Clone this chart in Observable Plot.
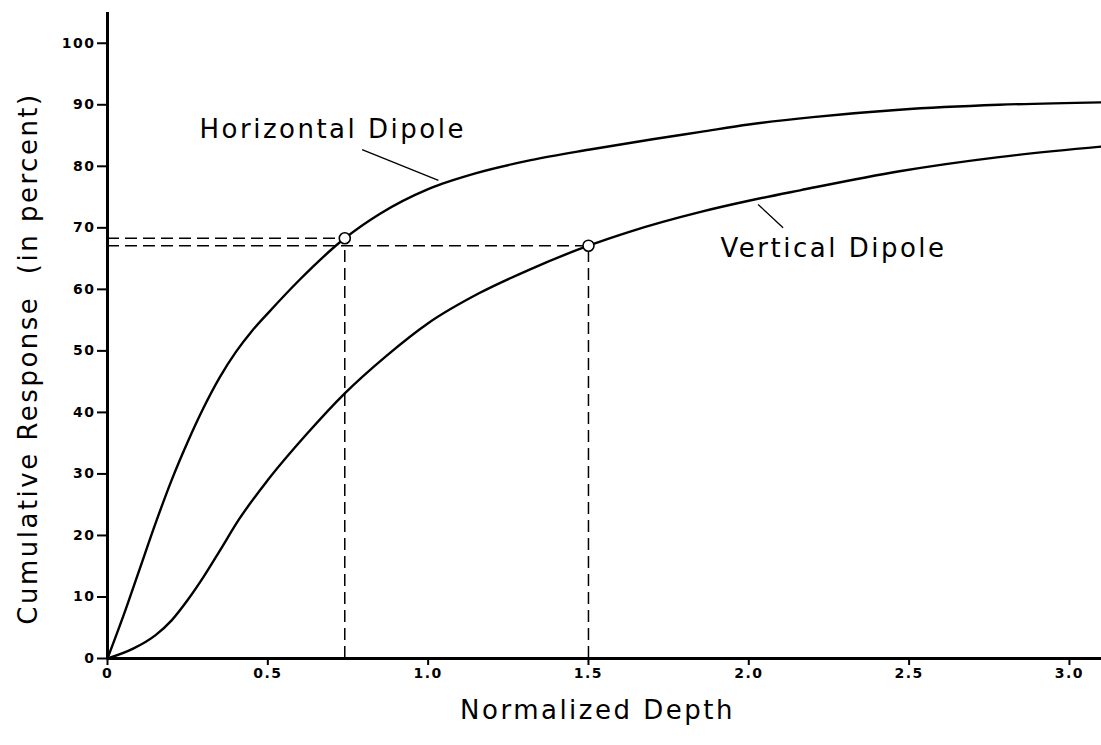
<!DOCTYPE html>
<html>
<head>
<meta charset="utf-8">
<script src="https://cdn.jsdelivr.net/npm/d3@7"></script>
<script src="https://cdn.jsdelivr.net/npm/@observablehq/plot@0.6"></script>
<style>
  html, body { margin: 0; padding: 0; background: #fff; }
  #chart svg { font-family: "DejaVu Sans", sans-serif; background: #fff; }
  #chart g[aria-label="x-axis tick label"] text,
  #chart g[aria-label="y-axis tick label"] text { font-weight: bold; letter-spacing: 1.5px; }
  #chart g[aria-label="text"] text { letter-spacing: 2.5px; }
</style>
</head>
<body>
<div id="chart"></div>
<script>
// Horizontal dipole cumulative response
const horizDepth = [0, 0.05, 0.1, 0.15, 0.2, 0.25, 0.3, 0.35, 0.4, 0.45, 0.5, 0.6, 0.74, 0.85, 1.0, 1.15, 1.32, 1.5, 1.7, 1.85, 2.0, 2.2, 2.47, 2.78, 3.1];
const horizResp  = [0, 7, 14.5, 22, 29, 35.2, 40.8, 45.7, 49.8, 53.2, 56.1, 61.6, 68.3, 72.3, 76.3, 78.9, 81.0, 82.7, 84.4, 85.6, 86.8, 88, 89.2, 90, 90.4];
// Vertical dipole cumulative response
const vertDepth = [0, 0.08, 0.15, 0.2, 0.25, 0.3, 0.35, 0.41, 0.5, 0.62, 0.74, 0.87, 1.0, 1.16, 1.32, 1.5, 1.63, 1.85, 2.0, 2.16, 2.47, 2.78, 3.1];
const vertResp  = [0, 1.6, 3.8, 6.2, 9.5, 13.3, 17.5, 22.6, 29, 36.4, 43.1, 49.2, 54.5, 59.4, 63.3, 67.1, 69.4, 72.6, 74.4, 76.1, 79.2, 81.5, 83.2];
// Marked points (70% response depths)
const markDepth = [0.74, 1.5];
const markResp  = [68.3, 67.1];
// Axis ticks
const xTicks = [0, 0.5, 1.0, 1.5, 2.0, 2.5, 3.0];
const yTicks = [0, 10, 20, 30, 40, 50, 60, 70, 80, 90, 100];
// Curve labels
const labelNames = ["Horizontal Dipole", "Vertical Dipole"];
const labelDepth = [0.287, 1.912];
const labelResp  = [86.0, 66.6];
// Leader lines from labels to curves
const leaderX1 = [0.794, 2.029];
const leaderY1 = [82.7, 73.8];
const leaderX2 = [1.032, 2.107];
const leaderY2 = [77.7, 70.0];

const curves = [
  ...horizDepth.map((d, i) => ({series: "Horizontal", depth: d, resp: horizResp[i]})),
  ...vertDepth.map((d, i) => ({series: "Vertical", depth: d, resp: vertResp[i]}))
];
const marks = markDepth.map((d, i) => ({depth: d, resp: markResp[i]}));
const labels = labelNames.map((n, i) => ({name: n, depth: labelDepth[i], resp: labelResp[i]}));
const leaders = leaderX1.map((x, i) => ({x1: x, y1: leaderY1[i], x2: leaderX2[i], y2: leaderY2[i]}));

const fmt = d => d === 0 ? "0" : d.toFixed(1);

const chart = Plot.plot({
  width: 1101,
  height: 745,
  marginLeft: 107,
  marginRight: 0,
  marginTop: 12,
  marginBottom: 87,
  x: {domain: [0, 3.1]},
  y: {domain: [0, 105]},
  marks: [
    Plot.axisX({ticks: xTicks, tickFormat: fmt, tickSize: 7, tickPadding: 3, strokeWidth: 2, fontSize: 14, label: null}),
    Plot.axisY({ticks: yTicks, tickSize: 10, tickPadding: 2, strokeWidth: 2, fontSize: 14, label: null}),
    Plot.ruleY(marks, {y: "resp", x1: 0, x2: "depth", stroke: "black", strokeWidth: 1.5, strokeDasharray: "12,6"}),
    Plot.ruleX(marks, {x: "depth", y1: 0, y2: "resp", stroke: "black", strokeWidth: 1.5, strokeDasharray: "12,6"}),
    Plot.line(curves, {x: "depth", y: "resp", z: "series", stroke: "black", strokeWidth: 2.4, curve: "monotone-x"}),
    Plot.ruleX([0], {stroke: "black", strokeWidth: 3}),
    Plot.ruleY([0], {stroke: "black", strokeWidth: 3}),
    Plot.dot(marks, {x: "depth", y: "resp", r: 5.5, stroke: "black", fill: "white", strokeWidth: 1.6}),
    Plot.link(leaders, {x1: "x1", y1: "y1", x2: "x2", y2: "y2", stroke: "black", strokeWidth: 1.3}),
    Plot.text(labels, {x: "depth", y: "resp", text: "name", textAnchor: "start", fontSize: 26, fill: "black"}),
    Plot.text(["Cumulative Response\u00a0\u00a0(in percent)"], {frameAnchor: "left", textAnchor: "middle", rotate: -90, dx: -79, dy: 23, fontSize: 26, fill: "black"}),
    Plot.text(["Normalized Depth"], {frameAnchor: "bottom", dx: -7, dy: 60, fontSize: 26, fill: "black"})
  ]
});
document.getElementById("chart").appendChild(chart);
</script>
</body>
</html>
